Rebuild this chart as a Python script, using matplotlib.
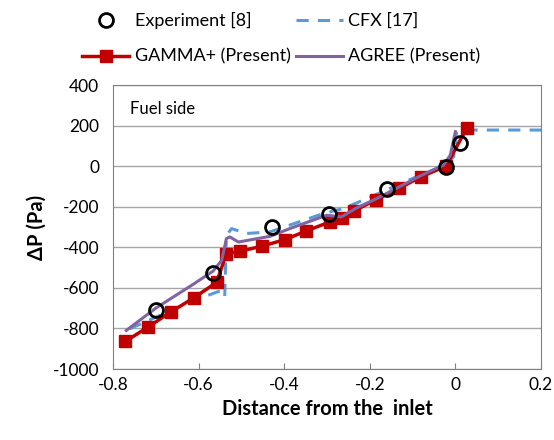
import matplotlib.pyplot as plt

# ---------------------------
# Data
# ---------------------------
gamma_x = [-0.771, -0.718, -0.665, -0.611, -0.558, -0.535, -0.504, -0.453, -0.398,
           -0.348, -0.293, -0.264, -0.238, -0.185, -0.132, -0.081, -0.022, 0.027]
gamma_y = [-864, -793, -719, -649, -573, -431, -420, -395, -362,
           -319, -275, -255, -222, -165, -110, -53, 0, 189]

exp_x = [-0.700, -0.566, -0.429, -0.295, -0.160, -0.023, 0.011]
exp_y = [-711, -527, -300, -234, -115, -3, 112]

agree_x = [-0.769, -0.700, -0.613, -0.566, -0.546, -0.535, -0.527, -0.507, -0.433,
           -0.387, -0.301, -0.266, -0.231, -0.184, -0.082, -0.028, -0.012, 0.0]
agree_y = [-810, -700, -583, -517, -464, -357, -349, -374, -346,
           -308, -242, -250, -206, -160, -48, 5, 54, 170]

cfx_x = [-0.761, -0.621, -0.546, -0.539, -0.535, -0.523, -0.488, -0.433, -0.309,
         -0.262, -0.207, -0.082, -0.028, -0.004, 0.003, 0.027, 0.2]
cfx_y = [-802, -670, -612, -642, -341, -308, -332, -324, -234,
         -209, -160, -44, 0, 46, 170, 178, 178]

plt.rcParams['font.family'] = ['Lato', 'DejaVu Sans']
plt.rcParams['axes.unicode_minus'] = False

fig = plt.figure(figsize=(5.54, 4.4), dpi=100)
ax = fig.add_axes([113/554, 1 - 369/440, 428/554, 284/440])

ax.plot(gamma_x, gamma_y, color='#c00000', lw=2.5, marker='s', ms=8,
        label='GAMMA+ (Present)', zorder=3)
ax.plot(exp_x, exp_y, ls='none', marker='o', ms=10, mfc='none', mec='black',
        mew=2, label='Experiment [8]', zorder=5)
ax.plot(cfx_x, cfx_y, color='#5b9bd5', lw=2.2, ls=(0, (4, 3)),
        label='CFX [17]', zorder=2)
ax.plot(agree_x, agree_y, color='#8064a2', lw=2.2, label='AGREE (Present)', zorder=4)

ax.set_xlim(-0.8, 0.2)
ax.set_ylim(-1000, 400)
ax.set_xticks([-0.8, -0.6, -0.4, -0.2, 0, 0.2])
ax.set_xticklabels(['-0.8', '-0.6', '-0.4', '-0.2', '0', '0.2'])
ax.set_yticks(range(-1000, 401, 200))
ax.yaxis.grid(True, color='#a6a6a6', lw=1)
ax.set_axisbelow(True)
for s in ax.spines.values():
    s.set_color('#808080')
ax.tick_params(labelsize=12.5, length=4, color='#808080')
ax.tick_params(axis='x', direction='in', pad=6)
ax.tick_params(axis='y', length=0, pad=10)

ax.set_xlabel('Distance from the  inlet', fontsize=14.5, fontweight='bold')
ax.set_ylabel('ΔP (Pa)', fontsize=14.5, fontweight='bold')
ax.text(0.04, 0.915, 'Fuel side', transform=ax.transAxes, fontsize=12, va='center')

# legend fills column-wise: Experiment / GAMMA+ in col 1, CFX / AGREE in col 2
h, l = ax.get_legend_handles_labels()
order = [1, 0, 2, 3]
fig.legend([h[i] for i in order], [l[i] for i in order], ncol=2,
           loc='upper left', bbox_to_anchor=(66/554, 1.01), frameon=False,
           fontsize=13, handlelength=2.6, columnspacing=0.3, labelspacing=1.1,
           handletextpad=0.3)

fig.savefig('out.png', dpi=100)
